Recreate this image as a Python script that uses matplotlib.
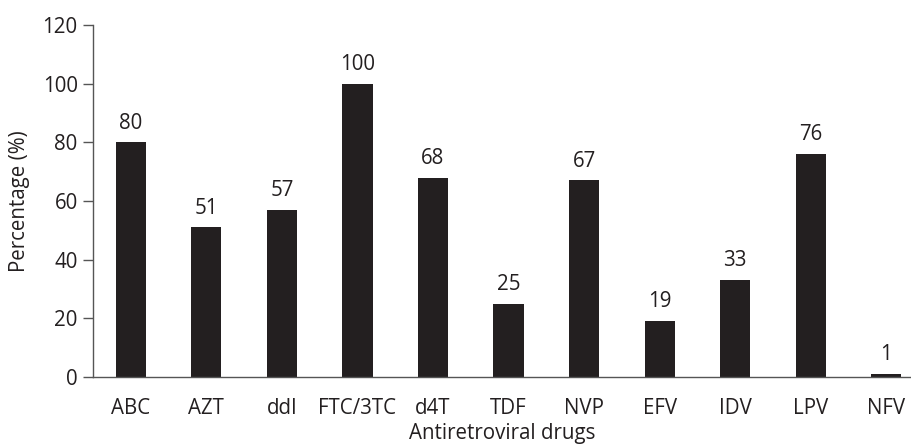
import matplotlib.pyplot as plt
import numpy as np

drugs = ["ABC", "AZT", "ddI", "FTC/3TC", "d4T", "TDF", "NVP", "EFV", "IDV", "LPV", "NFV"]
percent = [80, 51, 57, 100, 68, 25, 67, 19, 33, 76, 1]

plt.rcParams['font.family'] = ['Open Sans', 'DejaVu Sans']
fs = 14.8

fig = plt.figure(figsize=(9.12, 4.46), dpi=100)
ax = fig.add_axes([93/912, 1-377/446, 1-93/912, (377-25)/446])

x = np.arange(len(drugs))
ax.bar(x, percent, width=0.4, color='#231f20')

for xi, v in zip(x, percent):
    ax.text(xi, v + 3, str(v), ha='center', va='bottom', fontsize=fs, color='#231f20')

ax.set_xlim(-0.5, 10.34)
ax.set_ylim(0, 120)
ax.set_yticks(range(0, 121, 20))
ax.set_xticks(x)
ax.set_xticklabels(drugs)

for s in ['top', 'right']:
    ax.spines[s].set_visible(False)
for s in ['left', 'bottom']:
    ax.spines[s].set_color('#555555')
    ax.spines[s].set_linewidth(1.0)

ax.tick_params(axis='y', length=7, width=1.0, color='#555555', labelsize=fs, labelcolor='#231f20', pad=4)
ax.tick_params(axis='x', length=0, labelsize=fs, labelcolor='#231f20', pad=15)

ax.set_ylabel("Percentage (%)", fontsize=fs, color='#231f20', labelpad=9)
ax.set_xlabel("Antiretroviral drugs", fontsize=fs, color='#231f20', labelpad=3)

fig.savefig("out.png", dpi=100)
